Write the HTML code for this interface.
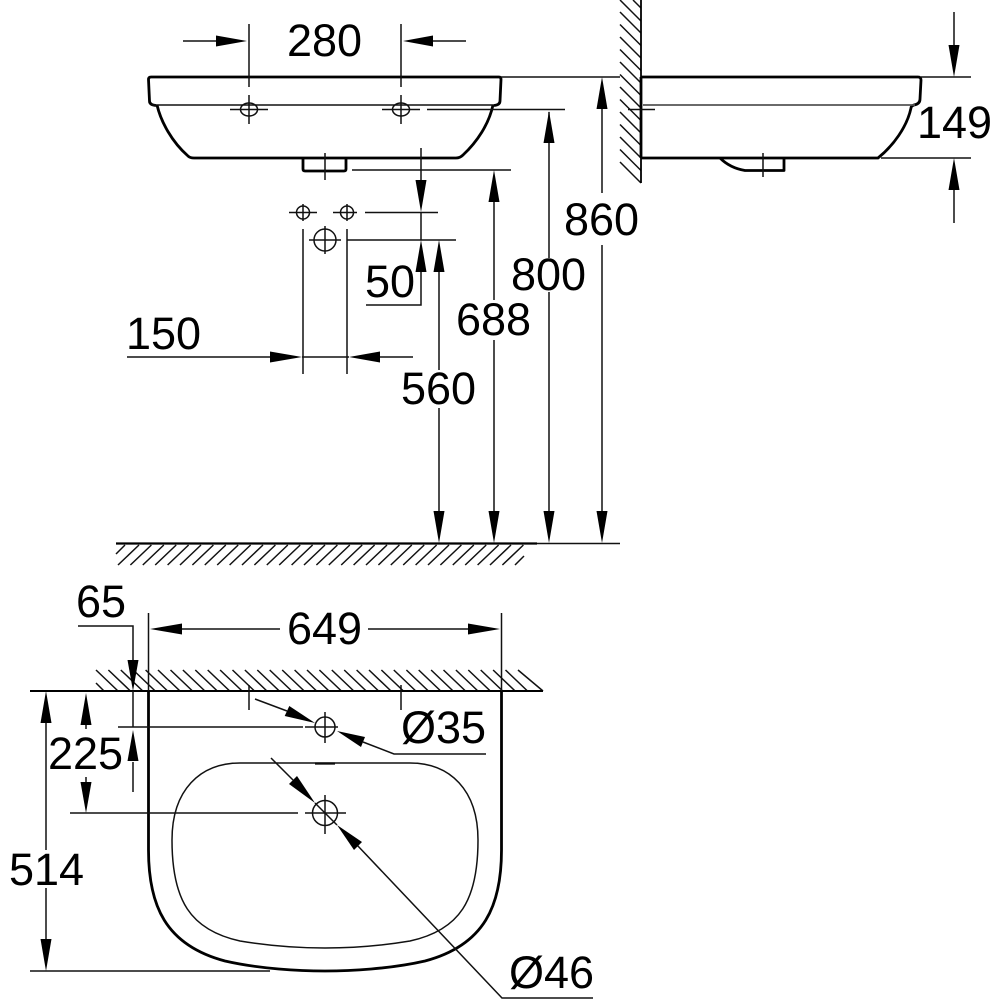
<!DOCTYPE html>
<html>
<head>
<meta charset="utf-8">
<style>
html,body{margin:0;padding:0;background:#fff;width:1000px;height:1000px;overflow:hidden}
svg{display:block}
text{font-family:"Liberation Sans",sans-serif;font-size:45px;fill:#000;stroke:none}
</style>
</head>
<body>
<svg width="1000" height="1000" viewBox="0 0 1000 1000" xmlns="http://www.w3.org/2000/svg">
<rect width="1000" height="1000" fill="#fff"/>

<!-- hatching -->
<g fill="none" stroke="#111" stroke-width="1.5">
<path d="M620 162l21 21M620 149.500l21 21M620 137l21 21M620 124.500l21 21M620 112l21 21M620 99.500l21 21M620 87l21 21M620 74.500l21 21M620 62l21 21M620 49.500l21 21M620 37l21 21M620 24.500l21 21M620 12l21 21M620 0l21 21M633 0l8 8"/>
<path d="M116 554l9 -9M118 565l21 -20M130.400 565l21 -20M142.800 565l21 -20M155.200 565l21 -20M167.600 565l21 -20M180 565l21 -20M192.400 565l21 -20M204.800 565l21 -20M217.200 565l21 -20M229.600 565l21 -20M242 565l21 -20M254.400 565l21 -20M266.800 565l21 -20M279.200 565l21 -20M291.600 565l21 -20M304 565l21 -20M316.400 565l21 -20M328.800 565l21 -20M341.200 565l21 -20M353.600 565l21 -20M366 565l21 -20M378.400 565l21 -20M390.800 565l21 -20M403.200 565l21 -20M415.600 565l21 -20M428 565l21 -20M440.400 565l21 -20M452.800 565l21 -20M465.200 565l21 -20M477.600 565l21 -20M490 565l21 -20M502.400 565l21 -20M515 565l9 -9"/>
<path d="M96 683l8 8M96 670l22 21M108.400 670l22 21M120.800 670l22 21M133.200 670l22 21M145.600 670l22 21M158 670l22 21M170.500 670l22 21M182.900 670l22 21M195.300 670l22 21M207.700 670l22 21M220.100 670l22 21M232.500 670l22 21M244.900 670l22 21M257.300 670l22 21M269.700 670l22 21M282.200 670l22 21M294.600 670l22 21M307 670l22 21M319.400 670l22 21M331.800 670l22 21M344.200 670l22 21M356.600 670l22 21M369 670l22 21M381.400 670l22 21M393.800 670l22 21M406.400 670l22 21M418.700 670l22 21M431.100 670l22 21M443.500 670l22 21M455.900 670l22 21M468.300 670l22 21M480.700 670l22 21M493.100 670l22 21M505.500 670l22 21M518 670l25 21"/>
</g>

<!-- thick outlines -->
<g fill="none" stroke="#000" stroke-width="2.800" stroke-linejoin="round">
<!-- front view -->
<path d="M151 77H499Q501 77 501 79.500L500 101Q500 105 494 105.500M151 77Q148.500 77 148.500 79.500L149.500 101Q149.500 105 156 105.500"/>
<path d="M157 105C161 122 172 142 188 156Q190 158 194 158H456Q460 158 463 155C477 142 489 124 493 105"/>
<path d="M303 158V169Q303 171 305 171H344Q346 171 346 169V158"/>
<!-- side view -->
<path d="M641 0V183" stroke-width="1.800"/>
<path d="M641 77V158" stroke-width="2.800"/>
<path d="M641 77H918Q921 77 921 80L920 99Q920 104 914 105Q911 106 911 108C907 127 893 146 878 158H641"/>
<path d="M720 158C727 165 736 169 745 170.500H784V158"/>
<!-- plan view -->
<path d="M148.500 691V850C148.500 905 165 945 225 961C260 969 300 971 325 971C350 971 390 969 425 961C485 945 501.500 905 501.500 850V691"/>
<path d="M30 691H543" stroke-width="2"/>
<path d="M116 543.500H537" stroke-width="2.200"/>
<path d="M315 763.500H335" stroke-width="2.200"/>
</g>

<!-- thin outlines -->
<g fill="none" stroke="#111" stroke-width="1.500">
<path d="M151 105H494"/>
<path d="M643 105H915" stroke="#555" stroke-width="1.700"/>
<path d="M325 763H240C200 763 172 790 172 840C172 900 190 930 240 941C270 946 300 948 325 948C350 948 380 946 410 941C460 930 478 900 478 840C478 790 450 763 410 763H325"/>
<ellipse cx="249" cy="109.500" rx="8.500" ry="6.500"/>
<ellipse cx="401" cy="109.500" rx="8.500" ry="6.500"/>
<circle cx="303" cy="212.500" r="6.500"/>
<circle cx="347" cy="212.500" r="6.500"/>
<circle cx="325" cy="240" r="11"/>
<circle cx="325" cy="727" r="10"/>
<circle cx="325" cy="813" r="12.500"/>
<!-- centre crosses -->
<path d="M230 109.500H268M249 95V124M382 109.500H420M401 95V124"/>
<path d="M289 212.500H317M303 204V221M333 212.500H357M347 204V221"/>
<path d="M309 240H341M325 226V254"/>
<path d="M325 153V180M628 109.500H655M763 153V177"/>
<path d="M305 727H338M325 712V743M305 813H346M325 795V834"/>
<path d="M249 685V710M401 685V710"/>
<!-- extension and dimension lines -->
<path d="M249 24V87M401 24V87M183 41H216M433 41H466"/>
<path d="M501 77H620M427 109.500H565M352 170H511M365 212.500H438M347 240H456"/>
<path d="M921 77H971M881 158H971M954 12V45M954 190V223"/>
<path d="M602 109V193M602 245V511M549 112V258M549 292V511M494 202V300M494 340V511M439 272V370M439 408V511"/>
<path d="M421 148V180M421 212V240M421 272V305H366"/>
<path d="M303 229V374M347 229V374M127 357H270M302 357H349M380 357H413"/>
<path d="M537 543.500H620"/>
<path d="M78 626H133V660M133 691V727M133 762V792"/>
<path d="M148.500 613V691M501.500 613V691M182 629H280M368 629H468"/>
<path d="M118 727H303M70 813H298M86 725V729M86 777V782"/>
<path d="M46 723V850M46 888V939M30 971H270"/>
<path d="M255 699L287 711M363 742L394 754H486"/>
<path d="M271 758L293 780M315 803L337 825M357 845L502 998H593" />
</g>

<!-- arrowheads -->
<g fill="#000" stroke="none">
<polygon points="247,41 216,35.500 216,46.500"/>
<polygon points="403,41 433,35.500 433,46.500"/>
<polygon points="954,77 948.500,45 959.500,45"/>
<polygon points="954,158 948.500,190 959.500,190"/>
<polygon points="602,77 596.500,109 607.500,109"/>
<polygon points="602,543 596.500,511 607.500,511"/>
<polygon points="549,111 543.500,143 554.500,143"/>
<polygon points="549,543 543.500,511 554.500,511"/>
<polygon points="494,170 488.500,202 499.500,202"/>
<polygon points="494,543 488.500,511 499.500,511"/>
<polygon points="439,240 433.500,272 444.500,272"/>
<polygon points="439,543 433.500,511 444.500,511"/>
<polygon points="421,212 415.500,180 426.500,180"/>
<polygon points="421,240 415.500,272 426.500,272"/>
<polygon points="302,357 270,351.500 270,362.500"/>
<polygon points="349,357 380,351.500 380,362.500"/>
<polygon points="133,691 127.500,660 138.500,660"/>
<polygon points="133,730 127.500,761 138.500,761"/>
<polygon points="150,629 182,623.500 182,634.500"/>
<polygon points="500,629 468,623.500 468,634.500"/>
<polygon points="86,693 80.500,725 91.500,725"/>
<polygon points="86,813 80.500,782 91.500,782"/>
<polygon points="46,691 40.500,723 51.500,723"/>
<polygon points="46,971 40.500,939 51.500,939"/>
<polygon points="315,723 284.700,716 289.300,706"/>
<polygon points="337,731 361,747 365,737"/>
<polygon points="315,803 289,784 297,776"/>
<polygon points="337,825 354,850 362,842"/>
</g>

<!-- labels -->
<text x="287" y="56">280</text>
<text x="917" y="138">149</text>
<text x="564" y="235">860</text>
<text x="511" y="290">800</text>
<text x="456" y="335">688</text>
<text x="401" y="404">560</text>
<text x="365" y="297">50</text>
<text x="126" y="349">150</text>
<text x="76" y="617">65</text>
<text x="287" y="644">649</text>
<text x="401" y="743">Ø35</text>
<text x="48" y="769">225</text>
<text x="9" y="885">514</text>
<text x="509" y="988">Ø46</text>
</svg>
</body>
</html>
